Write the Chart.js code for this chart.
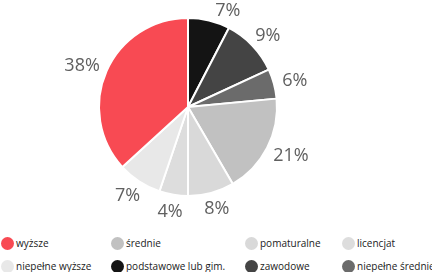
<!DOCTYPE html>
<html lang="pl">
<head>
<meta charset="utf-8">
<script src="https://cdn.jsdelivr.net/npm/chart.js@4"></script>
<style>
  html, body { margin: 0; padding: 0; background: #fff; }
  body { width: 432px; height: 272px; overflow: hidden; position: relative; font-family: "Open Sans", sans-serif; }
  #wykres { position: absolute; left: 0; top: 0; }
  #legenda {
    position: absolute; left: 1px; top: 232px; width: 431px;
    display: grid; grid-template-columns: 110px 134px 97px 90px; grid-auto-rows: 22.7px;
    font-size: 10px; color: #222;
  }
  .poz { display: flex; align-items: center; white-space: nowrap; }
  .kropka { width: 13px; height: 13px; border-radius: 50%; margin-right: 2px; flex: none; }
</style>
</head>
<body>
<canvas id="wykres" width="432" height="230"></canvas>
<div id="legenda"></div>
<script>
// kolejnosc wycinkow zgodnie z ruchem wskazowek zegara, od godziny 12
const kategorie = ['podstawowe lub gim.', 'zawodowe', 'niepełne średnie', 'średnie', 'pomaturalne', 'licencjat', 'niepełne wyższe', 'wyższe'];
const udzialy = [7.6, 10.5, 5.4, 18.1, 8.4, 5.2, 8.0, 36.8];
const etykiety = ['7%', '9%', '6%', '21%', '8%', '4%', '7%', '38%'];
const kolejnoscLegendy = ['wyższe', 'średnie', 'pomaturalne', 'licencjat', 'niepełne wyższe', 'podstawowe lub gim.', 'zawodowe', 'niepełne średnie'];

const kolory = ['#141414', '#444444', '#6b6b6b', '#c1c1c1', '#d9d9d9', '#dddddd', '#e8e8e8', '#f84a53'];

// etykiety procentowe na zewnatrz kola
const etykietyZewn = {
  id: 'etykietyZewn',
  afterDatasetsDraw(chart) {
    const ctx = chart.ctx;
    const meta = chart.getDatasetMeta(0);
    ctx.save();
    ctx.font = '18px "Open Sans"';
    ctx.fillStyle = '#606060';
    ctx.textAlign = 'center';
    ctx.textBaseline = 'alphabetic';
    const h = 13;
    meta.data.forEach((luk, i) => {
      const p = luk.getProps(['x', 'y', 'startAngle', 'endAngle', 'outerRadius'], true);
      const tekst = etykiety[i];
      const w = ctx.measureText(tekst).width;
      let kat = (p.startAngle + p.endAngle) / 2;
      const kierunek = Math.cos(kat) >= 0 ? 1 : -1;
      const pozycja = a => {
        const dx = Math.cos(a), dy = Math.sin(a);
        const r = p.outerRadius + 9;
        return { x: p.x + dx * r + dx * w / 2, y: p.y + dy * r + dy * h / 2 };
      };
      let poz = pozycja(kat);
      let kroki = 0;
      // etykieta wychodzi poza gore -> przesun po okregu
      while (poz.y - h / 2 < 3 && kroki < 80) {
        kat += 0.01 * kierunek;
        poz = pozycja(kat);
        kroki++;
      }
      ctx.fillText(tekst, poz.x, poz.y + h / 2);
    });
    ctx.restore();
  }
};

new Chart(document.getElementById('wykres'), {
  type: 'pie',
  data: {
    labels: kategorie,
    datasets: [{
      data: udzialy,
      backgroundColor: kolory,
      borderColor: '#ffffff',
      borderWidth: 2
    }]
  },
  options: {
    responsive: false,
    animation: false,
    devicePixelRatio: 1,
    layout: { padding: { left: 98, right: 154, top: 17, bottom: 33 } },
    plugins: {
      legend: { display: false },
      tooltip: { enabled: false }
    }
  },
  plugins: [etykietyZewn]
});

const legenda = document.getElementById('legenda');
kolejnoscLegendy.forEach(nazwa => {
  const i = kategorie.indexOf(nazwa);
  const el = document.createElement('div');
  el.className = 'poz';
  el.innerHTML = `<span class="kropka" style="background:${kolory[i]}"></span><span>${nazwa}</span>`;
  legenda.appendChild(el);
});
</script>
</body>
</html>
